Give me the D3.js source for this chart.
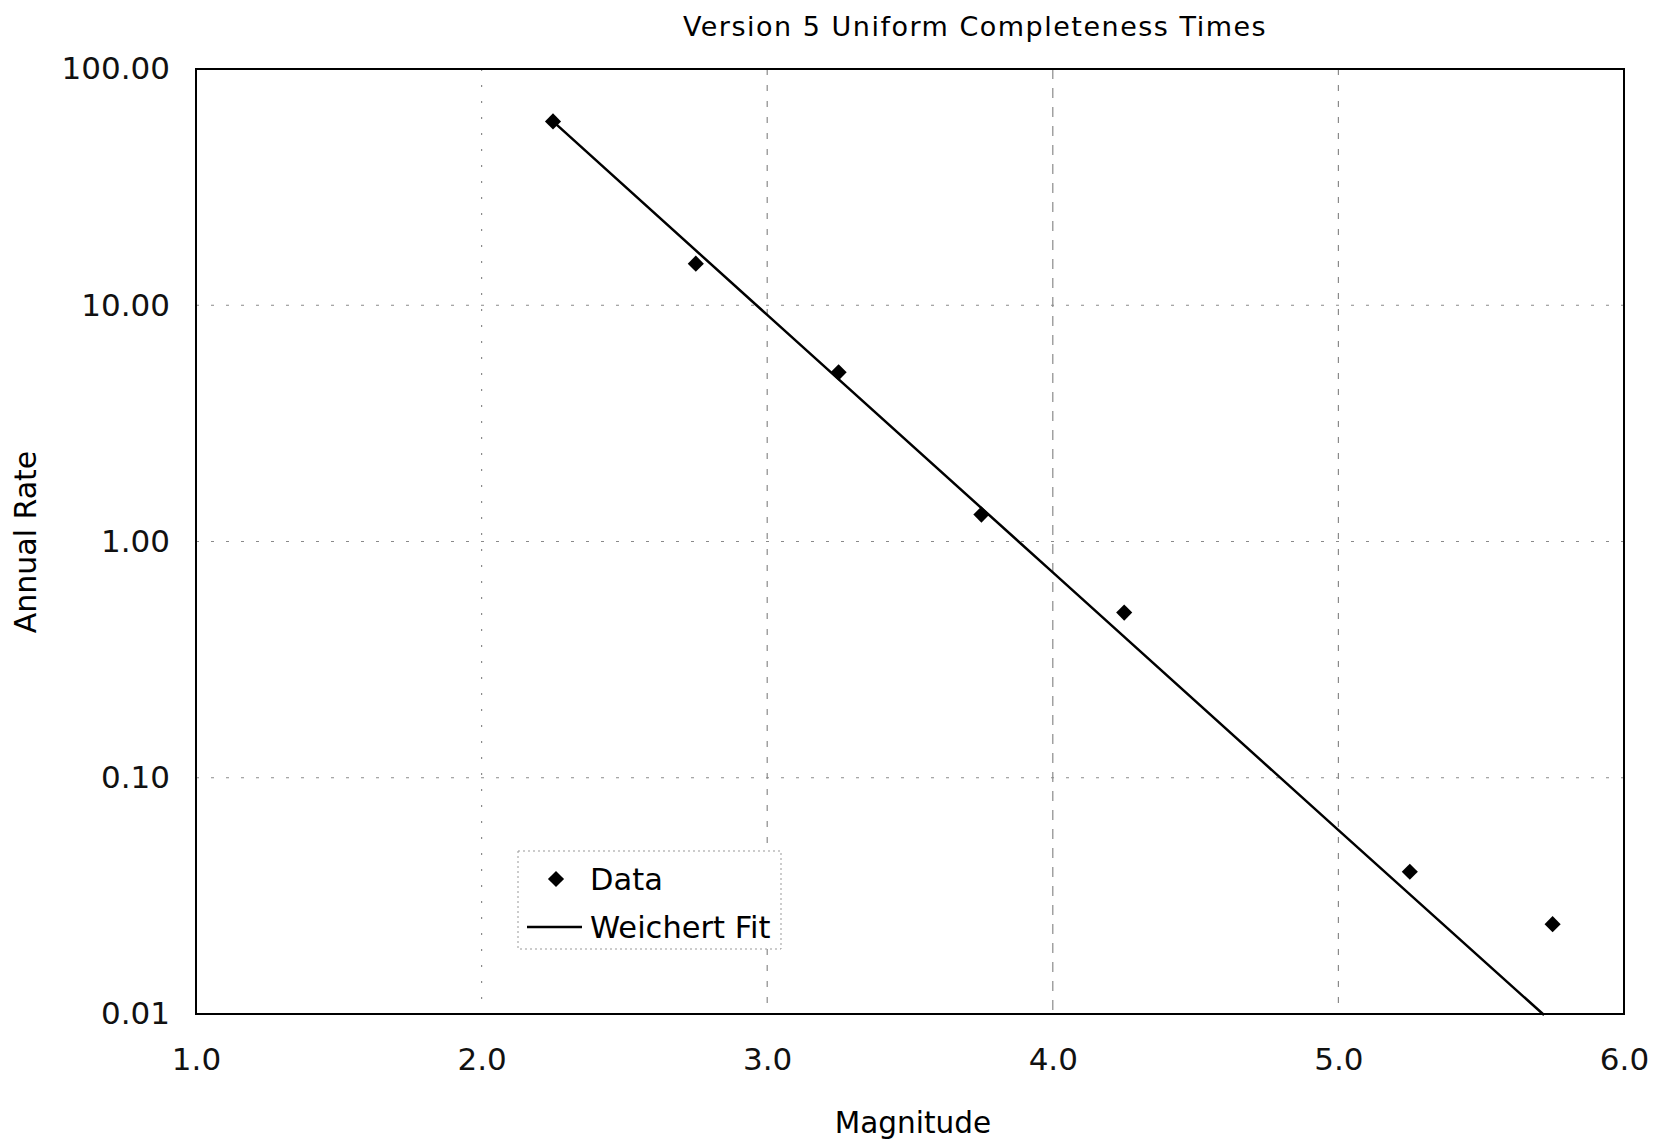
<!DOCTYPE html>
<html lang="en">
<head>
    <meta charset="UTF-8">
    <title>Version 5 Uniform Completeness Times</title>
    <script src="https://d3js.org/d3.v7.min.js"></script>
    <style>
        body {
            margin: 0;
            background: #fff;
            font-family: "DejaVu Sans", Verdana, sans-serif;
        }
        .grid line {
            stroke: #8a8a8a;
            stroke-width: 1.2;
        }
        .axis text {
            font-size: 31px;
            fill: #111;
        }
    </style>
</head>
<body>
    <svg width="1659" height="1143"></svg>
    <script>
        // data
        const magnitudes = [2.25, 2.75, 3.25, 3.75, 4.25, 5.25, 5.75];
        const rates = [60, 15, 5.2, 1.3, 0.5, 0.04, 0.024];

        // Weichert fit line
        const fitMag = [2.25, 3.0, 4.0, 5.0, 5.72];
        const fitRate = [60, 9.1, 0.74, 0.06, 0.0099];

        const xTicks = [1, 2, 3, 4, 5, 6];
        const yTicks = [100, 10, 1, 0.1, 0.01];

        const svg = d3.select("svg");
        const margin = {left: 196, right: 35, top: 69, bottom: 129};
        const width = +svg.attr("width");
        const height = +svg.attr("height");

        const x = d3.scaleLinear()
            .domain([1, 6])
            .range([margin.left, width - margin.right]);

        const y = d3.scaleLog()
            .domain([0.01, 100])
            .range([height - margin.bottom, margin.top]);

        // grid lines
        const grid = svg.append("g").attr("class", "grid");
        grid.selectAll(".vx")
            .data(xTicks.slice(1, -1))
            .enter().append("line")
            .attr("x1", d => x(d)).attr("x2", d => x(d))
            .attr("y1", y(100)).attr("y2", y(0.01))
            .attr("stroke-dasharray", d => d === 4 ? "10,9" : (d === 2 ? "2,14" : "6,10"))
            .attr("stroke", d => d === 4 ? "#555" : (d === 2 ? "#bbb" : "#888"));
        grid.selectAll(".hy")
            .data(yTicks.slice(1, -1))
            .enter().append("line")
            .attr("x1", x(1)).attr("x2", x(6))
            .attr("y1", d => y(d)).attr("y2", d => y(d))
            .attr("stroke-dasharray", "3,12")
            .attr("stroke", "#aaa");

        // axes
        svg.append("g")
            .attr("class", "axis")
            .attr("transform", `translate(0,${y(0.01)})`)
            .call(d3.axisBottom(x).tickValues(xTicks).tickFormat(d3.format(".1f")).tickSize(0).tickPadding(34))
            .call(g => g.select(".domain").remove())
            .selectAll("text").attr("font-family", "DejaVu Sans");

        svg.append("g")
            .attr("class", "axis")
            .attr("transform", `translate(${x(1)},0)`)
            .call(d3.axisLeft(y).tickValues(yTicks).tickFormat(d3.format(".2f")).tickSize(0).tickPadding(26))
            .call(g => g.select(".domain").remove())
            .selectAll("text").attr("font-family", "DejaVu Sans");

        // plot frame
        svg.append("rect")
            .attr("x", x(1)).attr("y", y(100))
            .attr("width", x(6) - x(1)).attr("height", y(0.01) - y(100))
            .attr("fill", "none")
            .attr("stroke", "#000")
            .attr("stroke-width", 2);

        // fit line
        const line = d3.line()
            .x((d, i) => x(fitMag[i]))
            .y((d, i) => y(fitRate[i]));
        svg.append("path")
            .datum(fitMag)
            .attr("d", line)
            .attr("fill", "none")
            .attr("stroke", "#000")
            .attr("stroke-width", 2.5);

        // data points
        const diamond = d3.symbol().type(d3.symbolSquare).size(130);
        svg.selectAll(".pt")
            .data(magnitudes)
            .enter().append("path")
            .attr("d", diamond)
            .attr("transform", (d, i) => `translate(${x(d)},${y(rates[i])}) rotate(45)`)
            .attr("fill", "#000");

        // title and axis titles
        svg.append("text")
            .attr("x", 975).attr("y", 36)
            .attr("text-anchor", "middle")
            .attr("font-size", 27)
            .attr("letter-spacing", 1.5)
            .text("Version 5 Uniform Completeness Times");

        svg.append("text")
            .attr("x", 913).attr("y", 1133)
            .attr("text-anchor", "middle")
            .attr("font-size", 29.5)
            .text("Magnitude");

        svg.append("text")
            .attr("transform", "translate(36,542) rotate(-90)")
            .attr("text-anchor", "middle")
            .attr("font-size", 30)
            .text("Annual Rate");

        // legend
        const legend = svg.append("g");
        legend.append("rect")
            .attr("x", 518).attr("y", 851)
            .attr("width", 263).attr("height", 98)
            .attr("fill", "#fff")
            .attr("stroke", "#999")
            .attr("stroke-dasharray", "2,3");
        legend.append("path")
            .attr("d", diamond)
            .attr("transform", "translate(556,879) rotate(45)")
            .attr("fill", "#000");
        legend.append("text")
            .attr("x", 590).attr("y", 890)
            .attr("font-size", 30.5)
            .text("Data");
        legend.append("line")
            .attr("x1", 527).attr("x2", 582)
            .attr("y1", 927).attr("y2", 927)
            .attr("stroke", "#000").attr("stroke-width", 2.5);
        legend.append("text")
            .attr("x", 590).attr("y", 938)
            .attr("font-size", 30.5)
            .text("Weichert Fit");
    </script>
</body>
</html>
